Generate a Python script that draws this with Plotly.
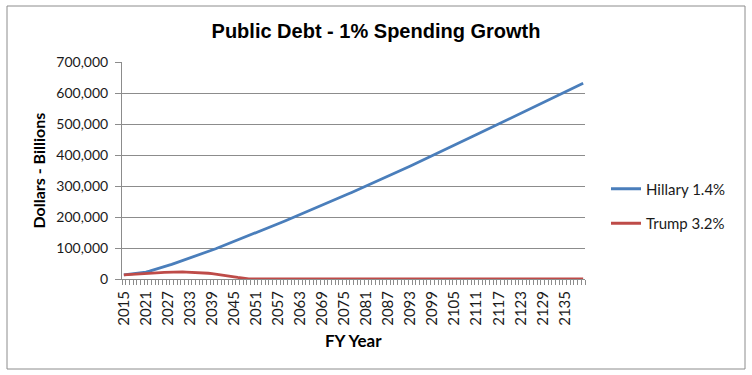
import plotly.graph_objects as go

# ---- data ----
years = list(range(2015, 2141))

hillary = [
    13000, 14300, 15700, 17200, 18800, 20500, 22400, 25200, 28500, 32000,
    35700, 39500, 43400, 47300, 51300, 55300, 59400, 63500, 67700, 71900,
    76100, 80400, 84700, 89000, 93300, 97700,
    102300, 106900, 111500, 116100, 120800, 125500, 130200, 134900, 139600, 144400,
    149200, 154000, 158800, 163600, 168400, 173300, 178200, 183100, 188000, 192900,
    197800, 202800, 207800, 212800, 217800, 222800, 227800, 232900, 238000, 243100,
    248200, 253300, 258400, 263600, 268800, 274000, 279200, 284400, 289600, 294800,
    300000, 305300, 310600, 315900, 321200, 326500, 331900, 337300, 342700, 348100,
    353500, 359000, 364500, 370000, 375500, 381000, 386600, 392200, 397800, 403400,
    409000, 414600, 420300, 426000, 431700, 437400, 443100, 448800, 454500, 460200,
    465900, 471600, 477300, 483000, 488700, 494400, 500100, 505800, 511500, 517200,
    522900, 528600, 534300, 540000, 545700, 551400, 557100, 562800, 568500, 574200,
    579900, 585600, 591300, 597000, 602700, 608400, 614100, 619800, 625500, 631200,
]

trump = [
    13000, 14000, 15000, 16000, 17000, 18000, 18800, 19400, 19900, 20300,
    20800, 21400, 22000, 22400, 22600, 22700, 22700, 22500, 22100, 21600,
    21000, 20300, 19500, 18500, 17300, 15900, 14300, 12600, 10800, 8900,
    6900, 4900, 2900, 1100,
    0, 0, 0, 0, 0, 0, 0, 0, 0, 0,
    0, 0, 0, 0, 0, 0, 0, 0, 0, 0,
    0, 0, 0, 0, 0, 0, 0, 0, 0, 0,
    0, 0, 0, 0, 0, 0, 0, 0, 0, 0,
    0, 0, 0, 0, 0, 0, 0, 0, 0, 0,
    0, 0, 0, 0, 0, 0, 0, 0, 0, 0,
    0, 0, 0, 0, 0, 0, 0, 0, 0, 0,
    0, 0, 0, 0, 0, 0, 0, 0, 0, 0,
    0, 0, 0, 0, 0, 0, 0, 0, 0, 0,
    0, 0,
]

x_tick_labels = [2015, 2021, 2027, 2033, 2039, 2045, 2051, 2057, 2063, 2069, 2075,
                 2081, 2087, 2093, 2099, 2105, 2111, 2117, 2123, 2129, 2135]
y_tick_values = [0, 100000, 200000, 300000, 400000, 500000, 600000, 700000]

# ---- figure ----
GRAY = "#8c8c8c"
FONT = "Lato"
W, H = 752, 375
L, R, T, B = 122, 167, 62, 96
pw, ph = W - L - R, H - T - B

fig = go.Figure()
fig.add_trace(go.Scatter(x=years, y=hillary, mode="lines", name="Hillary 1.4%",
                         legendgroup="h", line=dict(color="#4a7ebb", width=2.8)))
fig.add_trace(go.Scatter(x=years, y=trump, mode="lines", name="Trump 3.2%",
                         legendgroup="t", line=dict(color="#be4b48", width=2.8)))

fig.update_layout(
    width=W, height=H,
    margin=dict(l=L, r=R, t=T, b=B),
    paper_bgcolor="white", plot_bgcolor="white",
    font=dict(family=FONT, size=14, color="#1a1a1a"),
    title=dict(text="<b>Public Debt - 1% Spending Growth</b>",
               x=0.5, xanchor="center", xref="container",
               y=1 - 31 / H, yanchor="middle", yref="container",
               font=dict(family="Liberation Sans, Arial", size=20, color="#000")),
    showlegend=True,
    legend=dict(x=(606 - L) / pw, xanchor="left", y=(279 - 206) / ph, yanchor="middle",
                traceorder="grouped", tracegroupgap=12,
                font=dict(family=FONT, size=15, color="#1a1a1a"),
                bgcolor="rgba(0,0,0,0)"),
    xaxis=dict(
        range=[2014.5, 2140.5], tickmode="array", tickvals=x_tick_labels,
        ticktext=[str(v) for v in x_tick_labels], tickangle=-90,
        ticks="outside", ticklen=5, tickcolor="rgba(0,0,0,0)",
        showline=True, linecolor=GRAY, linewidth=1, showgrid=False, zeroline=False,
        minor=dict(tickmode="linear", tick0=2014.5, dtick=1, ticks="outside",
                   ticklen=5, tickcolor=GRAY, showgrid=False),
        tickfont=dict(family=FONT, size=15),
    ),
    yaxis=dict(
        range=[0, 700000], tickmode="array", tickvals=y_tick_values,
        tickformat=",", ticks="outside", ticklen=6, tickcolor=GRAY,
        ticklabelstandoff=4,
        showline=True, linecolor=GRAY, linewidth=1,
        showgrid=True, gridcolor=GRAY, gridwidth=1, zeroline=False,
        tickfont=dict(family=FONT, size=14),
    ),
    annotations=[
        dict(text="<b>Dollars - Billions</b>", xref="paper", yref="paper",
             x=(38 - L) / pw, y=0.5, xanchor="center", yanchor="middle",
             textangle=-90, showarrow=False, font=dict(family=FONT, size=16, color="#000")),
        dict(text="<b>FY Year</b>", xref="paper", yref="paper",
             x=(353 - L) / pw, y=(279 - 340) / ph, xanchor="center", yanchor="middle",
             showarrow=False, font=dict(family=FONT, size=17, color="#000")),
    ],
    shapes=[
        dict(type="rect", xref="paper", yref="paper",
             x0=(7 - L) / pw, x1=(745 - L) / pw,
             y0=(279 - 369) / ph, y1=(279 - 6) / ph,
             line=dict(color=GRAY, width=1), fillcolor="rgba(0,0,0,0)", layer="below"),
    ],
)

fig.write_html("out.html", config={"displayModeBar": False},
               post_script="document.body.style.margin='0';")
